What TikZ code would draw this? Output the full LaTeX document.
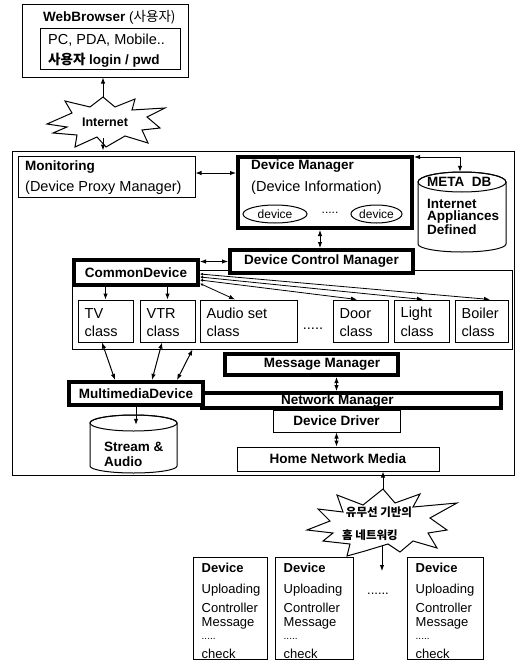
\documentclass[tikz,border=0pt]{standalone}
\usepackage{fontspec}
\setmainfont{Liberation Sans}
\newfontfamily\kr{Noto Sans CJK KR}
\usetikzlibrary{arrows.meta,calc,shapes.geometric}
\newcommand\myrg{\fontsize{14.5}{16}\selectfont}
\newcommand\mybf{\fontsize{13.5}{15}\selectfont\bfseries}
\newcommand\mysm{\fontsize{13}{15}\selectfont}
\begin{document}
\begin{tikzpicture}[x=1pt,y=-1pt,
  >={Latex[length=6pt,width=4.5pt]},
  tbox/.style={draw, line width=1pt, fill=white, inner sep=0pt},
  kbox/.style={draw, line width=4pt, fill=white, inner sep=0pt, font=\mybf},
  lab/.style={inner sep=0pt, anchor=west, font=\myrg},
  blab/.style={inner sep=0pt, anchor=west, font=\mybf},
  ctr/.style={inner sep=0pt, font=\mybf},
  ebox/.style={draw, ellipse, line width=1pt, inner sep=0pt, font=\fontsize{12}{14}\selectfont},
  burst/.style={draw, line width=1pt, fill=white, line join=miter},
  cyl/.style={draw, line width=1pt, fill=white},
  bi/.style={line width=1pt, <->},
  uni/.style={line width=1pt, ->},
  fan/.style={line width=0.8pt, {Latex[length=3pt,width=3pt]}-{Latex[length=6pt,width=4.5pt]}},
]
\useasboundingbox (0,0) rectangle (518,661);

% outer frame
\node[draw, line width=1pt, inner sep=0pt, minimum width=502pt, minimum height=324pt] (frame) at (263,313) {};

% web browser
\node[tbox, minimum width=166pt, minimum height=72pt] (wb) at (105,41) {};
\node[blab] (wbt) at (43,17) {WebBrowser {\mdseries (\kr 사용자)}};
\node[tbox, minimum width=140pt, minimum height=41pt] (wbin) at (110,49.5) {};
\node[lab] (wb1) at (48,40) {PC, PDA, Mobile..};
\node[blab] (wb2) at (48,60) {{\kr 사용자} login / pwd};

% internet burst
\draw[burst] (47,124) -- (72,113) -- (65,101) -- (90,107) -- (103,97) -- (115,107) -- (135,99) -- (132,110) -- (165,108) -- (147,117) -- (160,128) -- (142,130) -- (148,143) -- (125,136) -- (106,147) -- (97,137) -- (75,147) -- (77,135) -- (53,133) -- (67,127) -- cycle;
\node[ctr, font=\fontsize{12.5}{14}\selectfont\bfseries] (inet) at (105,122) {Internet};
\coordinate (iT) at (103,98);
\coordinate (iB) at (103,138);

% monitoring
\node[tbox, minimum width=177pt, minimum height=41pt] (mon) at (106.5,176.5) {};
\node[blab] (mont) at (25,167) {Monitoring};
\node[lab] (mons) at (25,188) {(Device Proxy Manager)};

% device manager
\node[kbox, minimum width=174pt, minimum height=71pt] (dm) at (325,192.5) {};
\node[blab] (dmt) at (251,166) {Device Manager};
\node[lab] (dms) at (251,188) {(Device Information)};
\node[ebox, minimum width=64pt, minimum height=18pt] (dv1) at (275,214) {device};
\node[ebox, minimum width=51pt, minimum height=18pt] (dv2) at (376.5,214) {device};
\node[inner sep=0pt, font=\fontsize{12}{14}\selectfont] (dvd) at (330,213) {.....};

% META DB cylinder
\node[inner sep=0pt, minimum width=88pt, minimum height=80pt] (metadb) at (462,212) {};
\path[cyl] (418,182) -- (418,244) arc[start angle=180, end angle=360, x radius=44pt, y radius=8pt] -- (506,182) arc[start angle=0, end angle=180, x radius=44pt, y radius=10pt] -- cycle;
\draw[line width=1pt] (462,182) ellipse [x radius=44pt, y radius=10pt];
\node[blab] (mdb1) at (427,182) {META\ \ DB};
\node[inner sep=0pt, anchor=north west, align=left, font=\fontsize{13.5}{12}\selectfont\bfseries] (mdb2) at (427,199) {Internet\\Appliances\\Defined};

% class container
\node[draw, line width=1pt, inner sep=0pt, minimum width=440pt, minimum height=79pt] (classes) at (292,309.5) {};

% common device, device control manager
\node[kbox, minimum width=124pt, minimum height=25pt] (cd) at (136,272.5) {CommonDevice};
\node[kbox, minimum width=183pt, minimum height=23pt] (dcm) at (321.5,261.5) {Device Control Manager};

% class boxes
\node[tbox, minimum width=55pt, minimum height=42pt] (tv) at (105.5,321) {};
\node[tbox, minimum width=55pt, minimum height=42pt] (vtr) at (167.5,321) {};
\node[tbox, minimum width=97pt, minimum height=42pt] (audio) at (248.5,321) {};
\node[tbox, minimum width=55pt, minimum height=42pt] (door) at (360.5,321) {};
\node[tbox, minimum width=55pt, minimum height=42pt] (light) at (421.5,321) {};
\node[tbox, minimum width=53pt, minimum height=42pt] (boiler) at (481.5,321) {};
\foreach \nm/\a in {tv/TV, vtr/VTR, audio/Audio set, door/Door, light/Light, boiler/Boiler} {
  \node[lab] (\nm a) at ($(\nm.north west)+(7,14)$) {\a};
  \node[lab] (\nm b) at ($(\nm.north west)+(7,32)$) {class};
}
\node[inner sep=0pt, font=\myrg] (cdots) at (313,329) {.....};

% managers
\node[kbox, minimum width=173pt, minimum height=21pt] (mm) at (311.5,364.5) {};
\node[ctr] (mmt) at (322,364.5) {Message Manager};
\node[kbox, minimum width=299pt, minimum height=15pt] (nm) at (351.5,400.5) {};
\node[ctr] (nmt) at (337.5,401) {Network Manager};
\node[kbox, minimum width=134pt, minimum height=23pt] (md) at (136,393.5) {MultimediaDevice};
\node[tbox, minimum width=127pt, minimum height=22pt, font=\mybf] (dd) at (336.5,421) {Device Driver};
\node[tbox, minimum width=202pt, minimum height=24pt, font=\mybf] (hnm) at (338,459) {Home Network Media};

% stream & audio cylinder
\node[inner sep=0pt, minimum width=87pt, minimum height=58pt] (sa) at (133.5,444) {};
\path[cyl] (90,423) -- (90,466) arc[start angle=180, end angle=360, x radius=43.5pt, y radius=7pt] -- (177,423) arc[start angle=0, end angle=180, x radius=43.5pt, y radius=8pt] -- cycle;
\draw[line width=1pt] (133.5,423) ellipse [x radius=43.5pt, y radius=8pt];
\node[inner sep=0pt, anchor=north west, align=left, font=\fontsize{13.5}{15}\selectfont\bfseries] (sat) at (104,442) {Stream \&\\Audio};

% wired/wireless burst
\draw[burst] (307,530) -- (330,521) -- (318,509) -- (343,512) -- (337,495) -- (363,505) -- (383,489) -- (395,503) -- (420,494) -- (413,507) -- (457,503) -- (430,518) -- (447,530) -- (428,533) -- (437,548) -- (413,541) -- (400,552) -- (388,544) -- (365,551) -- (347,556) -- (350,544) -- (323,541) -- (333,533) -- cycle;
\node[inner sep=0pt, font=\kr\bfseries\fontsize{11.5}{13}\selectfont] (k1) at (379,512) {유무선 기반의};
\node[inner sep=0pt, font=\kr\bfseries\fontsize{11.5}{13}\selectfont] (k2) at (370,535) {홈 네트워킹};
\coordinate (bT) at (383,490);
\coordinate (bB) at (382,546);
\coordinate (bE) at (382,571);

% devices
\foreach \n/\cx/\w in {1/230/74, 2/314/78, 3/445/76} {
  \node[tbox, minimum width=\w pt, minimum height=102pt] (d\n) at (\cx,608) {};
  \node[blab, font=\fontsize{13}{15}\selectfont\bfseries] (d\n a) at ($(d\n.north west)+(9,11)$) {Device};
  \node[lab, font=\mysm] (d\n b) at ($(d\n.north west)+(9,34)$) {Uploading};
  \node[lab, font=\mysm] (d\n c) at ($(d\n.north west)+(9,51)$) {Controller};
  \node[lab, font=\mysm] (d\n d) at ($(d\n.north west)+(9,67)$) {Message};
  \node[lab, font=\fontsize{10}{12}\selectfont] (d\n e) at ($(d\n.north west)+(9,82)$) {.....};
  \node[lab, font=\mysm] (d\n f) at ($(d\n.north west)+(9,97)$) {check};
}
\node[inner sep=0pt, font=\mysm] (ddots) at (378,594) {......};

% connectors
\draw[uni] (iT) -- (iT |- wb.south);
\draw[uni] (iB) -- (iB |- frame.north);
\coordinate (m1) at ([yshift=3.5pt]mon.east);
\draw[bi] (m1) -- (m1 -| dm.west);
\draw[bi] ([yshift=-2pt]dm.north east) -| ([xshift=-2pt]metadb.north);
\coordinate (c1) at ([xshift=-5pt]dm.south);
\draw[bi] (c1) -- (c1 |- dcm.north);
\draw[bi] (cd.east |- dcm.west) -- (dcm.west);
\draw[uni] (cd.south -| tv.north) -- (tv.north);
\draw[uni] (cd.south -| vtr.north) -- (vtr.north);
\draw[fan] ([yshift=-1.5pt]cd.east) -- ([xshift=8.5pt]boiler.north);
\draw[fan] ([yshift=-4.5pt]cd.east) -- ([xshift=1.5pt]light.north);
\draw[fan] ([yshift=-7.5pt]cd.east) -- ([xshift=-3.5pt]door.north);
\draw[fan] ([yshift=-11pt]cd.east) -- ([xshift=-13.5pt]audio.north);
\draw[bi] ([xshift=-3.5pt]tv.south) -- ([xshift=-21pt]md.north);
\draw[bi] ([xshift=-5.5pt]vtr.south) -- ([xshift=16pt]md.north);
\draw[bi] ([xshift=121pt]classes.south west) -- ([xshift=41pt]md.north);
\draw[uni] (md.south) -- ($(md.south |- sa.north)+(0,10)$);
\draw[bi] (mm.south -| dd.north) -- (nm.north -| dd.north);
\draw[bi] (dd.south) -- (dd.south |- hnm.north);
\draw[uni] (bT) -- (bT |- hnm.south);
\draw[uni] (bB) -- (bE);
\end{tikzpicture}
\end{document}
